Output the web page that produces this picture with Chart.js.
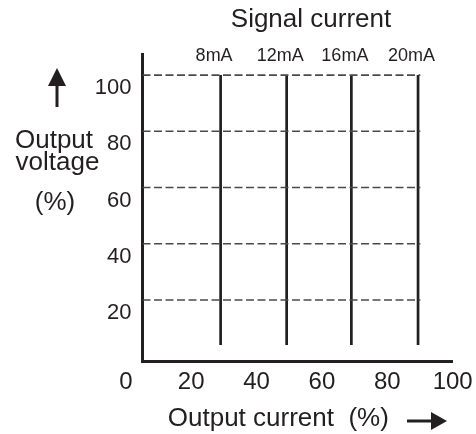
<!DOCTYPE html>
<html>
<head>
<meta charset="utf-8">
<script src="https://cdn.jsdelivr.net/npm/chart.js"></script>
<style>
  body { margin: 0; background: #fff; }
  canvas { display: block; }
</style>
</head>
<body>
<canvas id="signalChart" width="476" height="434"></canvas>
<script>
// values
const signalLabels = ['8mA', '12mA', '16mA', '20mA'];
const signalX = [29.0, 49.2, 69.0, 89.4];
const signalBottom = 4;
const signalTop = 100;
const voltageLevels = [20, 40, 60, 80, 100];
const dashEnd = 90.1;
const xTicks = [0, 20, 40, 60, 80, 100];
const yTicks = [20, 40, 60, 80, 100];
const xMin = 5.1, xMax = 100;
const yMin = -1.9, yMax = 107.5;

const ink = '#231f20';
const fontFamily = '"Liberation Sans", Arial, Helvetica, sans-serif';

const datasets = [];
voltageLevels.forEach(function (lvl) {
  datasets.push({
    data: [{ x: xMin, y: lvl }, { x: dashEnd, y: lvl }],
    borderColor: '#4a4a4a',
    borderWidth: 1.6,
    borderDash: [8, 3.5],
    pointRadius: 0
  });
});
signalX.forEach(function (sx) {
  datasets.push({
    data: [{ x: sx, y: signalBottom }, { x: sx, y: signalTop }],
    borderColor: ink,
    borderWidth: 2.7,
    pointRadius: 0
  });
});

// horizontal texts and the two arrows round the axes
const sideText = {
  id: 'sideText',
  afterDraw(chart) {
    const ctx = chart.ctx;
    ctx.save();
    ctx.fillStyle = ink;
    ctx.strokeStyle = ink;
    ctx.textAlign = 'center';
    ctx.textBaseline = 'alphabetic';
    ctx.font = '26px ' + fontFamily;
    ctx.fillText('Signal current', 311, 27);
    ctx.fillText('Output', 54, 148);
    ctx.fillText('voltage', 57.5, 170);
    ctx.fillText('(%)', 55, 210);
    ctx.fillText('Output current  (%)', 278.3, 426);

    // up arrow
    ctx.lineWidth = 3;
    ctx.beginPath();
    ctx.moveTo(57, 84);
    ctx.lineTo(57, 107);
    ctx.stroke();
    ctx.beginPath();
    ctx.moveTo(57, 68);
    ctx.lineTo(48, 86);
    ctx.lineTo(66, 86);
    ctx.closePath();
    ctx.fill();

    // right arrow
    ctx.beginPath();
    ctx.moveTo(407, 421);
    ctx.lineTo(433, 421);
    ctx.stroke();
    ctx.beginPath();
    ctx.moveTo(447, 421);
    ctx.lineTo(431, 412);
    ctx.lineTo(431, 430);
    ctx.closePath();
    ctx.fill();
    ctx.restore();
  }
};

function noPad(scale) {
  scale.paddingLeft = 0;
  scale.paddingRight = 0;
  scale.paddingTop = 0;
  scale.paddingBottom = 0;
}

new Chart(document.getElementById('signalChart'), {
  type: 'line',
  data: { datasets: datasets },
  options: {
    responsive: false,
    animation: false,
    devicePixelRatio: 1,
    layout: { padding: { left: 0, right: 23.3, top: 0, bottom: 0 } },
    plugins: {
      legend: { display: false },
      tooltip: { enabled: false }
    },
    scales: {
      x: {
        type: 'linear',
        position: 'bottom',
        min: xMin,
        max: xMax,
        afterBuildTicks: function (s) { s.ticks = xTicks.map(function (v) { return { value: v }; }); },
        afterFit: function (s) { s.height = 72.5; noPad(s); },
        grid: { display: false, drawTicks: false },
        border: { display: true, width: 3, color: ink },
        ticks: {
          autoSkip: false,
          maxRotation: 0,
          padding: 6.5,
          color: ink,
          font: { family: fontFamily, size: 24 }
        }
      },
      x2: {
        type: 'linear',
        axis: 'x',
        position: 'top',
        min: xMin,
        max: xMax,
        afterBuildTicks: function (s) { s.ticks = signalX.map(function (v) { return { value: v }; }); },
        afterFit: function (s) { s.height = 54; noPad(s); },
        grid: { display: false, drawTicks: false },
        border: { display: false },
        ticks: {
          autoSkip: false,
          maxRotation: 0,
          mirror: true,
          padding: -9,
          labelOffset: -6.5,
          color: ink,
          font: { family: fontFamily, size: 18 },
          callback: function (value, index) { return signalLabels[index]; }
        }
      },
      y: {
        type: 'linear',
        position: 'left',
        min: yMin,
        max: yMax,
        afterBuildTicks: function (s) { s.ticks = yTicks.map(function (v) { return { value: v }; }); },
        afterFit: function (s) { s.width = 142.5; noPad(s); },
        grid: { display: false, drawTicks: false },
        border: { display: true, width: 3, color: ink },
        ticks: {
          autoSkip: false,
          padding: 11,
          labelOffset: 13,
          color: ink,
          font: { family: fontFamily, size: 22 }
        }
      }
    }
  },
  plugins: [sideText]
});
</script>
</body>
</html>
